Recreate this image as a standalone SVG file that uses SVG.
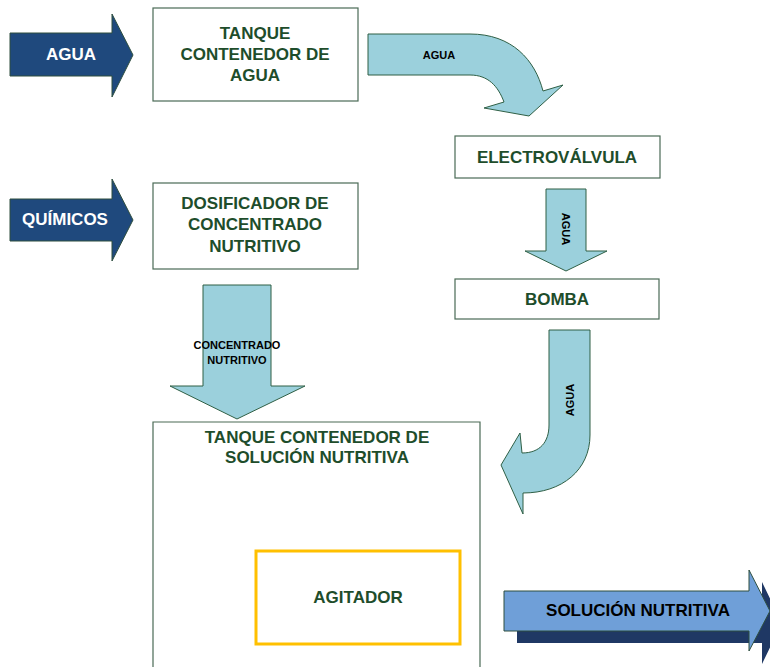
<svg xmlns="http://www.w3.org/2000/svg" width="770" height="667" viewBox="0 0 770 667">
  <style>
    .box { fill: #ffffff; stroke: #4a6a55; stroke-width: 1.2; }
    .lbl { font-family: "Liberation Sans", Arial, sans-serif; font-weight: bold; font-size: 17px; fill: #1e4d2b; text-anchor: middle; }
    .in { fill: #1f497d; stroke: #2f4f3f; stroke-width: 1; }
    .inlbl { font-family: "Liberation Sans", Arial, sans-serif; font-weight: bold; font-size: 17px; fill: #ffffff; text-anchor: middle; }
    .flow { fill: #9bd0dc; stroke: #2f5f45; stroke-width: 1; }
    .flowlbl { font-family: "Liberation Sans", Arial, sans-serif; font-weight: bold; font-size: 11px; fill: #000000; text-anchor: middle; }
    .outlbl { font-family: "Liberation Sans", Arial, sans-serif; font-weight: bold; font-size: 17px; fill: #000000; text-anchor: middle; }
  </style>

  <!-- connectors: inputs and flows between stages -->
  <g id="connectors">
    <g id="in-agua">
      <polygon class="in" points="10,33 112,33 112,14 133,55 112,97 112,76 10,76"/>
      <text class="inlbl" x="71" y="60">AGUA</text>
    </g>
    <g id="in-quimicos">
      <polygon class="in" points="10,199 112,199 112,179 133,220 112,261 112,241 10,241"/>
      <text class="inlbl" x="65" y="225">QUÍMICOS</text>
    </g>
    <g id="tanque-to-valvula">
      <path class="flow" d="M368,34 L470,34 C512,34 535,60 543,91 L563,85 L529,116 L484,108 L504,102 C498,86 488,75 470,75 L368,75 Z"/>
      <text class="flowlbl" x="439" y="59">AGUA</text>
    </g>
    <g id="valvula-to-bomba">
      <polygon class="flow" points="546,189 586,189 586,251 607,251 566,271 525,251 546,251"/>
      <text class="flowlbl" transform="translate(566,229) rotate(90)" x="0" y="4">AGUA</text>
    </g>
    <g id="bomba-to-solucion">
      <path class="flow" d="M549,330 L590,330 L590,435 C590,470 562,493 523,493 L523,514 L501,465 L520,433 L522,453 C540,453 549,442 549,425 Z"/>
      <text class="flowlbl" transform="translate(570,400) rotate(-90)" x="0" y="4">AGUA</text>
    </g>
    <g id="dosificador-to-solucion">
      <polygon class="flow" points="203,285 271,285 271,386 305,386 237,419 170,386 203,386"/>
      <text class="flowlbl" x="237" y="349">CONCENTRADO</text>
      <text class="flowlbl" x="237" y="364">NUTRITIVO</text>
    </g>
    <g id="out-solucion">
      <polygon fill="#1f3864" points="517,603 762,603 762,582 782,623 762,664 762,643 517,643"/>
      <polygon fill="#6f9fd8" stroke="#2f4f3f" stroke-width="1" points="504,591 749,591 749,570 770,611 749,651 749,631 504,631"/>
      <text class="outlbl" x="638" y="616">SOLUCIÓN NUTRITIVA</text>
    </g>
  </g>

  <g id="tanque-agua">
    <rect class="box" x="153" y="8" width="205" height="93"/>
    <text class="lbl" x="255" y="39">TANQUE</text>
    <text class="lbl" x="255" y="60">CONTENEDOR DE</text>
    <text class="lbl" x="255" y="81">AGUA</text>
  </g>

  <g id="dosificador">
    <rect class="box" x="153" y="183" width="205" height="86"/>
    <text class="lbl" x="255" y="209">DOSIFICADOR DE</text>
    <text class="lbl" x="255" y="230">CONCENTRADO</text>
    <text class="lbl" x="255" y="252">NUTRITIVO</text>
  </g>

  <g id="electrovalvula">
    <rect class="box" x="455" y="136" width="205" height="42"/>
    <text class="lbl" x="557" y="163">ELECTROVÁLVULA</text>
  </g>

  <g id="bomba">
    <rect class="box" x="455" y="279" width="204" height="40"/>
    <text class="lbl" x="557" y="305">BOMBA</text>
  </g>

  <g id="tanque-solucion">
    <path class="box" d="M153,672 L153,422 L480,422 L480,672"/>
    <text class="lbl" x="317" y="443">TANQUE CONTENEDOR DE</text>
    <text class="lbl" x="317" y="463">SOLUCIÓN NUTRITIVA</text>
  </g>

  <g id="agitador">
    <rect x="256" y="551" width="204" height="93" fill="#ffffff" stroke="#ffc000" stroke-width="3"/>
    <text class="lbl" x="358" y="603">AGITADOR</text>
  </g>
</svg>
